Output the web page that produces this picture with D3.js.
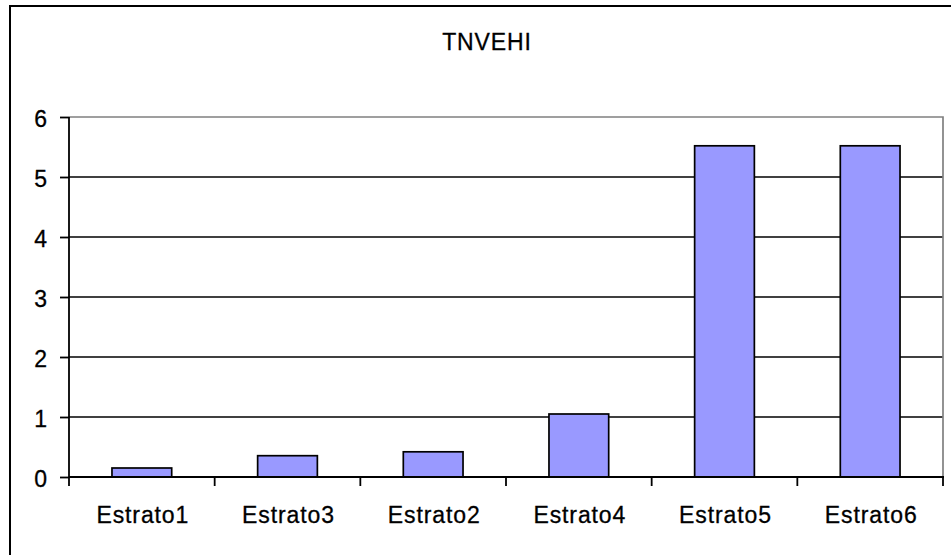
<!DOCTYPE html>
<html>
<head>
<meta charset="utf-8">
<script src="https://cdn.jsdelivr.net/npm/d3@7.9.0/dist/d3.min.js"></script>
<style>
  html, body { margin: 0; padding: 0; background: #fff; }
  svg { display: block; }
  svg text { font-family: Arial, "Liberation Sans", sans-serif; font-size: 23px; fill: #000; letter-spacing: 0.9px; stroke: #000; stroke-width: 0.3px; }
</style>
</head>
<body>
<svg id="chart" width="951" height="555"></svg>
<script>
// chart data
const title = 'TNVEHI';
const categories = ['Estrato1', 'Estrato3', 'Estrato2', 'Estrato4', 'Estrato5', 'Estrato6'];
const values = [0.15, 0.355, 0.42, 1.05, 5.52, 5.52];
const yTicks = [0, 1, 2, 3, 4, 5, 6];

const width = 951;
const height = 555;
const plot = { left: 69, right: 943, top: 117, bottom: 477 };

const svg = d3.select('#chart');

// outer chart frame (runs off the right and bottom edge)
svg.append('path')
  .attr('d', `M10,${height + 5} V6 H${width + 5}`)
  .attr('fill', 'none')
  .attr('stroke', '#000')
  .attr('stroke-width', 2);

svg.append('text')
  .attr('x', 487)
  .attr('y', 50)
  .attr('text-anchor', 'middle')
  .text(title);

const x = d3.scaleBand()
  .domain(categories)
  .range([plot.left, plot.right])
  .paddingInner(0.59)
  .paddingOuter(0.295);

const y = d3.scaleLinear()
  .domain([0, 6])
  .range([plot.bottom, plot.top]);

// horizontal gridlines
svg.append('g')
  .selectAll('line')
  .data(yTicks.filter(d => d > 0 && d < 6))
  .join('line')
  .attr('x1', plot.left)
  .attr('x2', plot.right)
  .attr('y1', d => y(d))
  .attr('y2', d => y(d))
  .attr('stroke', '#000')
  .attr('stroke-width', 1.7);

// plot area border top and right (gray)
svg.append('path')
  .attr('d', `M${plot.left},${plot.top} H${plot.right} V${plot.bottom}`)
  .attr('fill', 'none')
  .attr('stroke', '#808080')
  .attr('stroke-width', 1.7);

// bars
svg.append('g')
  .selectAll('rect')
  .data(values)
  .join('rect')
  .attr('x', (d, i) => x(categories[i]))
  .attr('y', d => y(d))
  .attr('width', x.bandwidth())
  .attr('height', d => y(0) - y(d))
  .attr('fill', '#9999ff')
  .attr('stroke', '#000')
  .attr('stroke-width', 1.7);

// y axis
const yAxis = svg.append('g')
  .attr('transform', `translate(${plot.left},0)`)
  .call(d3.axisLeft(y).tickValues(yTicks).tickSize(9).tickPadding(12).tickFormat(d3.format('d')));
yAxis.select('.domain').attr('stroke', '#000').attr('stroke-width', 1.8)
  .attr('d', `M0,${plot.top} V${plot.bottom + 1}`);
yAxis.selectAll('.tick line').attr('stroke', '#000').attr('stroke-width', 1.8);
yAxis.selectAll('.tick text')
  .attr('dy', '0.4em')
  .style('font-size', '23px')
  .style('font-family', 'Arial, "Liberation Sans", sans-serif');

// x axis with ticks between categories
const xAxisG = svg.append('g');
xAxisG.append('line')
  .attr('x1', plot.left)
  .attr('x2', plot.right + 1)
  .attr('y1', plot.bottom)
  .attr('y2', plot.bottom)
  .attr('stroke', '#000')
  .attr('stroke-width', 1.8);

const step = x.step();
xAxisG.selectAll('line.sep')
  .data(d3.range(categories.length + 1))
  .join('line')
  .attr('class', 'sep')
  .attr('x1', i => plot.left + i * step)
  .attr('x2', i => plot.left + i * step)
  .attr('y1', plot.bottom)
  .attr('y2', plot.bottom + 9)
  .attr('stroke', '#000')
  .attr('stroke-width', 1.8);

xAxisG.selectAll('text')
  .data(categories)
  .join('text')
  .attr('x', d => x(d) + x.bandwidth() / 2 + 1)
  .attr('y', 523)
  .attr('text-anchor', 'middle')
  .text(d => d);
</script>
</body>
</html>
